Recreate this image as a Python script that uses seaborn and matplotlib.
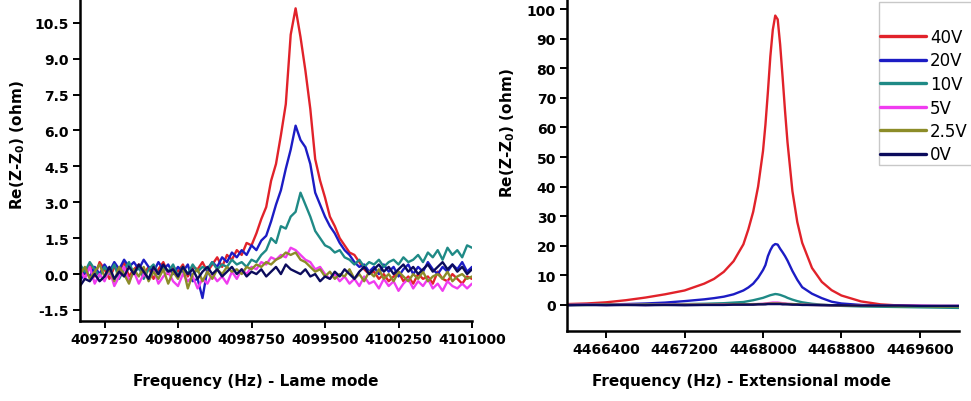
import numpy as np
import pandas as pd
import matplotlib
matplotlib.use("Agg")
import matplotlib.pyplot as plt
from matplotlib.lines import Line2D
from matplotlib.patches import Rectangle
import seaborn as sns

# =============================================
# data
biases = ['40V', '20V', '10V', '5V', '2.5V', '0V']
colors = ['#e1222a', '#1c1cc4', '#1f8a86', '#f03cf0', '#8c8c28', '#0b0b5c']

# Lame mode, 50 Hz steps from 4097000 to 4101000
lame_freq = list(range(4097000, 4101001, 50))
lame_40 = [0.3, 0.0, 0.4, -0.1, 0.5, 0.2, -0.2, 0.3, 0.1, 0.5,
           -0.1, 0.2, 0.4, 0.0, 0.3, -0.2, 0.2, 0.5, 0.0, 0.3,
           0.1, 0.4, -0.1, 0.3, 0.2, 0.5, 0.1, 0.4, 0.7, 0.3,
           0.8, 0.6, 1.0, 0.8, 1.3, 1.2, 1.7, 2.3, 2.8, 3.9,
           4.6, 5.8, 7.1, 10.0, 11.1, 9.9, 8.5, 6.9, 4.8, 3.9,
           3.2, 2.4, 2.0, 1.5, 1.2, 0.9, 0.8, 0.5, 0.2, 0.0,
           0.1, -0.2, 0.0, -0.3, -0.1, 0.1, -0.3, -0.1, -0.4, 0.0,
           -0.2, -0.1, -0.4, 0.1, -0.2, -0.3, 0.0, -0.2, -0.4, -0.1, -0.2]
lame_20 = [-0.3, 0.1, -0.1, 0.3, 0.0, 0.4, 0.1, 0.5, 0.2, 0.6,
           0.3, 0.5, 0.2, 0.6, 0.3, 0.1, 0.5, 0.2, 0.4, 0.0,
           0.3, 0.1, 0.4, -0.3, -0.2, -1.0, 0.2, 0.5, 0.3, 0.7,
           0.5, 0.9, 0.7, 1.0, 0.8, 1.2, 1.0, 1.4, 1.6, 2.2,
           2.9, 3.5, 4.4, 5.2, 6.2, 5.6, 5.3, 4.6, 3.4, 2.9,
           2.4, 2.0, 1.7, 1.3, 1.0, 0.8, 0.5, 0.3, 0.4, 0.1,
           0.3, 0.0, 0.4, 0.1, 0.3, -0.1, 0.2, 0.4, 0.0, 0.3,
           0.1, 0.5, 0.2, 0.0, 0.3, 0.1, 0.4, 0.2, 0.5, 0.1, 0.3]
lame_10 = [0.4, 0.1, 0.5, 0.2, -0.1, 0.3, 0.0, 0.4, -0.2, 0.2,
           0.5, 0.0, 0.3, -0.2, 0.2, 0.4, 0.0, 0.3, 0.1, 0.4,
           -0.1, 0.3, 0.0, 0.4, 0.1, 0.3, 0.2, 0.5, 0.2, 0.4,
           0.3, 0.6, 0.4, 0.5, 0.3, 0.6, 0.5, 0.8, 1.0, 1.5,
           1.3, 2.0, 1.9, 2.4, 2.6, 3.4, 2.9, 2.4, 1.8, 1.5,
           1.2, 1.1, 0.9, 1.0, 0.7, 0.6, 0.4, 0.6, 0.3, 0.5,
           0.4, 0.6, 0.3, 0.5, 0.6, 0.4, 0.7, 0.5, 0.6, 0.8,
           0.5, 0.9, 0.7, 1.0, 0.6, 1.1, 0.8, 1.0, 0.7, 1.2, 1.1]
lame_5 = [0.2, -0.2, 0.3, -0.4, 0.0, -0.3, 0.2, -0.5, -0.1, 0.3,
          -0.3, 0.1, -0.4, 0.0, -0.2, 0.2, -0.4, -0.1, 0.1, -0.3,
          -0.5, 0.0, -0.3, -0.1, -0.6, -0.2, -0.4, 0.0, -0.3, -0.1,
          -0.4, 0.1, -0.2, 0.2, 0.0, 0.3, 0.2, 0.5, 0.4, 0.7,
          0.6, 0.8, 0.7, 1.1, 1.0, 0.8, 0.6, 0.5, 0.2, 0.3,
          0.0, -0.2, 0.0, -0.3, -0.1, -0.4, -0.2, -0.5, -0.1, -0.4,
          -0.3, -0.6, -0.2, -0.5, -0.3, -0.7, -0.4, -0.2, -0.6, -0.3,
          -0.5, -0.2, -0.6, -0.4, -0.7, -0.3, -0.5, -0.6, -0.4, -0.6, -0.4]
lame_2p5 = [0.0, 0.3, -0.2, 0.1, 0.4, -0.1, 0.2, -0.3, 0.3, 0.0,
            -0.4, 0.2, -0.1, 0.3, -0.3, 0.1, -0.2, 0.2, -0.4, 0.1,
            -0.2, 0.3, -0.6, 0.0, 0.2, -0.3, 0.1, -0.2, 0.2, 0.0,
            0.3, 0.1, 0.2, 0.0, 0.3, 0.2, 0.4, 0.3, 0.5, 0.4,
            0.6, 0.7, 0.9, 0.8, 0.9, 0.6, 0.5, 0.3, 0.1, 0.2,
            -0.1, 0.1, -0.2, 0.0, -0.1, 0.2, -0.2, 0.0, -0.3, 0.1,
            -0.1, 0.2, -0.2, 0.0, -0.3, 0.1, -0.1, -0.3, 0.0, -0.2,
            0.1, -0.3, -0.1, 0.0, -0.2, 0.1, -0.3, -0.1, 0.0, -0.2, -0.1]
lame_0 = [-0.5, -0.2, -0.3, 0.0, -0.3, -0.1, 0.3, -0.2, 0.1, -0.1,
          0.3, 0.0, 0.4, 0.1, -0.2, 0.3, 0.0, 0.4, 0.1, 0.2,
          -0.1, 0.3, 0.0, 0.2, -0.2, 0.1, 0.3, 0.0, 0.2, -0.1,
          0.1, 0.3, 0.0, 0.2, -0.1, 0.1, 0.0, 0.2, -0.1, 0.1,
          0.3, 0.0, 0.4, 0.2, 0.1, 0.0, 0.2, -0.1, 0.0, -0.3,
          -0.1, -0.2, 0.1, -0.1, 0.2, 0.0, -0.2, 0.1, 0.3, 0.0,
          0.2, 0.4, 0.1, 0.3, 0.0, 0.2, 0.4, 0.1, 0.3, 0.0,
          0.2, 0.4, 0.1, 0.3, 0.5, 0.2, 0.4, 0.1, 0.3, 0.0, 0.2]

# Extensional mode
ext_freq = [4466000, 4466200, 4466400, 4466600, 4466800, 4467000, 4467200,
            4467400, 4467500, 4467600, 4467700, 4467800, 4467850, 4467900,
            4467950, 4468000, 4468025, 4468050, 4468075, 4468100, 4468125,
            4468150, 4468175, 4468200, 4468225, 4468250, 4468300, 4468350,
            4468400, 4468500, 4468600, 4468700, 4468800, 4469000, 4469200,
            4469400, 4469600, 4469800, 4470000]
ext_40 = [0.3, 0.5, 0.9, 1.6, 2.5, 3.6, 4.9, 7.2, 8.8, 11.2, 14.8, 20.5, 25.5,
          31.5, 40.0, 52.0, 61.0, 72.0, 84.0, 93.0, 97.8, 96.5, 88.0, 77.0,
          65.5, 55.0, 38.5, 28.0, 21.0, 12.5, 7.8, 5.0, 3.2, 1.2, 0.2,
          -0.2, -0.4, -0.5, -0.6]
ext_20 = [0.0, 0.1, 0.2, 0.3, 0.5, 0.8, 1.3, 1.9, 2.3, 2.8, 3.6, 4.9, 5.9,
          7.2, 9.2, 11.8, 13.5, 16.5, 18.5, 20.0, 20.6, 20.4, 19.0, 17.8,
          16.5, 15.0, 11.5, 8.5, 6.0, 3.8, 2.3, 1.1, 0.5, 0.0, -0.2,
          -0.3, -0.4, -0.5, -0.5]
ext_10 = [0.0, 0.0, 0.1, 0.1, 0.1, 0.2, 0.3, 0.4, 0.5, 0.6, 0.8, 1.0, 1.3,
          1.6, 2.0, 2.4, 2.7, 3.0, 3.3, 3.5, 3.7, 3.6, 3.4, 3.1, 2.8, 2.4,
          1.8, 1.3, 0.9, 0.4, 0.1, -0.1, -0.3, -0.5, -0.6, -0.7, -0.8,
          -0.9, -1.0]
ext_5 = [0.0, 0.1, 0.0, 0.1, 0.0, 0.1, 0.1, 0.1, 0.1, 0.2, 0.2, 0.2, 0.2,
         0.3, 0.3, 0.4, 0.5, 0.6, 0.7, 0.8, 0.8, 0.8, 0.7, 0.6, 0.5, 0.4,
         0.3, 0.2, 0.1, 0.0, 0.0, -0.1, -0.1, -0.1, -0.2, -0.2, -0.2,
         -0.3, -0.3]
ext_2p5 = [0.0, 0.0, 0.1, 0.0, 0.1, 0.0, 0.1, 0.1, 0.1, 0.1, 0.2, 0.2, 0.2,
           0.2, 0.3, 0.3, 0.4, 0.4, 0.5, 0.5, 0.5, 0.5, 0.5, 0.4, 0.4, 0.3,
           0.3, 0.2, 0.1, 0.0, 0.0, -0.1, -0.2, -0.3, -0.3, -0.4, -0.4,
           -0.5, -0.5]
ext_0 = [-0.1, 0.0, -0.1, 0.0, -0.1, 0.0, -0.1, 0.0, 0.0, 0.0, 0.1, 0.1,
         0.1, 0.1, 0.2, 0.2, 0.2, 0.3, 0.3, 0.3, 0.3, 0.3, 0.3, 0.2, 0.2,
         0.2, 0.1, 0.1, 0.0, 0.0, -0.1, -0.1, -0.1, -0.2, -0.2, -0.2,
         -0.3, -0.3, -0.3]

lame_series = [lame_40, lame_20, lame_10, lame_5, lame_2p5, lame_0]
ext_series = [ext_40, ext_20, ext_10, ext_5, ext_2p5, ext_0]


def to_long(freq, series):
    frames = []
    for name, vals in zip(biases, series):
        frames.append(pd.DataFrame({'freq': freq, 'val': vals, 'bias': name}))
    return pd.concat(frames, ignore_index=True)


df_lame = to_long(lame_freq, lame_series)
df_ext = to_long(ext_freq, ext_series)
palette = dict(zip(biases, colors))

# =============================================
# plotting parameters
sns.set_style("ticks")
plt.rcParams['font.family'] = ['DejaVu Sans']
plt.rcParams['mathtext.fontset'] = 'dejavusans'
plt.rcParams['mathtext.default'] = 'bf'
plt.rcParams['text.color'] = 'black'
plt.rcParams['axes.labelcolor'] = 'black'
plt.rcParams['xtick.color'] = 'black'
plt.rcParams['ytick.color'] = 'black'
plt.rcParams['axes.edgecolor'] = 'black'

tickFontSize = 10
labelFontSize = 11
ylab = r'Re(Z-Z$_0$) (ohm)'

fig = plt.figure(figsize=(9.71, 4.02), dpi=100)
ax1 = fig.add_axes([80 / 971, 1 - 322 / 402, 392 / 971, 322 / 402])
ax2 = fig.add_axes([567 / 971, 1 - 332 / 402, 392 / 971, 332 / 402])

sns.lineplot(data=df_lame, x='freq', y='val', hue='bias', hue_order=biases,
             palette=palette, linewidth=1.7, legend=False, ax=ax1, sort=False)
sns.lineplot(data=df_ext, x='freq', y='val', hue='bias', hue_order=biases,
             palette=palette, linewidth=1.7, legend=False, ax=ax2, sort=False)

# left panel axes
ax1.set_xlim(4097000, 4101000)
ax1.set_ylim(-1.96, 11.49)
ax1.set_xticks([4097250, 4098000, 4098750, 4099500, 4100250, 4101000])
ax1.set_yticks([-1.5, 0.0, 1.5, 3.0, 4.5, 6.0, 7.5, 9.0, 10.5])
ax1.set_yticklabels(['-1.5', '0.0', '1.5', '3.0', '4.5', '6.0', '7.5', '9.0', '10.5'])
ax1.set_xlabel('Frequency (Hz) - Lame mode', fontsize=labelFontSize,
               fontweight='bold', va='center')
ax1.xaxis.set_label_coords((256 - 80) / 392, (322 - 382) / 322)
ax1.set_ylabel(ylab, fontsize=labelFontSize, fontweight='bold', va='center')
ax1.yaxis.set_label_coords((18 - 80) / 392, (322 - 145) / 322)

# right panel axes
ax2.set_xlim(4466000, 4470000)
ax2.set_ylim(-8.8, 103.4)
ax2.set_xticks([4466400, 4467200, 4468000, 4468800, 4469600])
ax2.set_yticks(range(0, 101, 10))
ax2.set_xlabel('Frequency (Hz) - Extensional mode', fontsize=labelFontSize,
               fontweight='bold', va='center')
ax2.xaxis.set_label_coords((741 - 567) / 392, (332 - 382) / 332)
ax2.set_ylabel(ylab, fontsize=labelFontSize, fontweight='bold', va='center')
ax2.yaxis.set_label_coords((508 - 567) / 392, (332 - 133) / 332)

for ax in (ax1, ax2):
    sns.despine(ax=ax)
    ax.spines['left'].set_linewidth(1.8)
    ax.spines['bottom'].set_linewidth(1.8)
    ax.tick_params(axis='both', direction='out', length=5, width=1.4,
                   labelsize=tickFontSize, pad=3)
    ax.ticklabel_format(axis='x', style='plain', useOffset=False)
    for lab in ax.get_xticklabels() + ax.get_yticklabels():
        lab.set_fontweight('bold')
    ax.grid(False)

# legend (right panel)
handles = [Line2D([0], [0], color=c, lw=2.4) for c in colors]
fig.legend(handles, biases, loc='upper left',
           bbox_to_anchor=(880 / 971, 1 - 29 / 402), frameon=False,
           fontsize=12, handlelength=2.75, handletextpad=0.25,
           labelspacing=0.33, borderaxespad=0, borderpad=0)
fig.patches.append(Rectangle((879 / 971, 1 - 166 / 402), 0.2, 163 / 402,
                             transform=fig.transFigure, fill=False,
                             edgecolor='#c8c8c8', linewidth=1.0))

plt.savefig('out.png', dpi=100)
plt.close()
